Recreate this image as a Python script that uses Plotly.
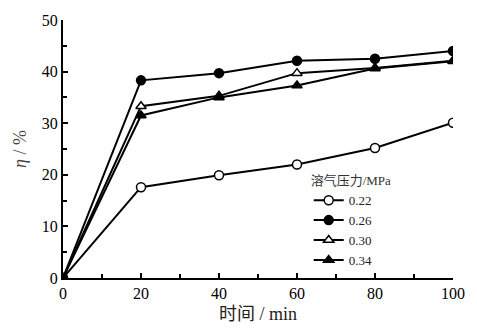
import plotly.graph_objects as go

time_min = [0, 20, 40, 60, 80, 100]
eta_022 = [0, 17.6, 19.9, 22.0, 25.2, 30.1]
eta_026 = [0, 38.3, 39.7, 42.1, 42.5, 44.0]
eta_030 = [0, 33.3, 35.3, 39.7, 40.7, 42.1]
eta_034 = [0, 31.5, 35.0, 37.3, 40.6, 42.0]
series_names = ["0.22", "0.26", "0.30", "0.34"]
symbols = ["circle", "circle", "triangle-up", "triangle-up"]
fills = ["white", "black", "white", "black"]

FONT = "Liberation Serif, Noto Sans CJK SC"

fig = go.Figure()
for name, ys, sym, fc in zip(series_names, [eta_022, eta_026, eta_030, eta_034], symbols, fills):
    fig.add_trace(go.Scatter(
        x=time_min, y=ys, name=name, mode="lines+markers",
        line=dict(color="black", width=2),
        marker=dict(symbol=sym, size=9, color=fc, line=dict(color="black", width=1.5)),
    ))

axis_common = dict(
    showline=True, linecolor="black", linewidth=2,
    ticks="inside", ticklen=5, tickwidth=2, tickcolor="black",
    showgrid=False, zeroline=False, mirror=False,
    tickfont=dict(family=FONT, size=16, color="black"),
)

fig.update_xaxes(range=[0, 100], dtick=20, **axis_common,
                 minor=dict(ticks="inside", dtick=10, ticklen=4, tickwidth=1.5, tickcolor="black"),
                 title=dict(text="时间 / min", font=dict(family=FONT, size=18, color="#222"), standoff=6))
fig.update_yaxes(range=[0, 50], dtick=10, **axis_common,
                 minor=dict(ticks="inside", dtick=5, ticklen=4, tickwidth=1.5, tickcolor="black"),
                 title=dict(text="<i>η</i> / %", font=dict(family=FONT, size=18, color="#444"), standoff=10))

fig.update_layout(
    width=477, height=336,
    margin=dict(l=63, r=20, t=17, b=58),
    paper_bgcolor="white", plot_bgcolor="white",
    font=dict(family=FONT, color="black"),
    legend=dict(
        title=dict(text="溶气压力/MPa", font=dict(family=FONT, size=13, color="#333")),
        x=0.63, y=0.425, xanchor="left", yanchor="top",
        font=dict(family=FONT, size=13, color="#222"),
        bgcolor="rgba(0,0,0,0)", tracegroupgap=0, itemwidth=30,
    ),
)

fig.write_html("out.html")
